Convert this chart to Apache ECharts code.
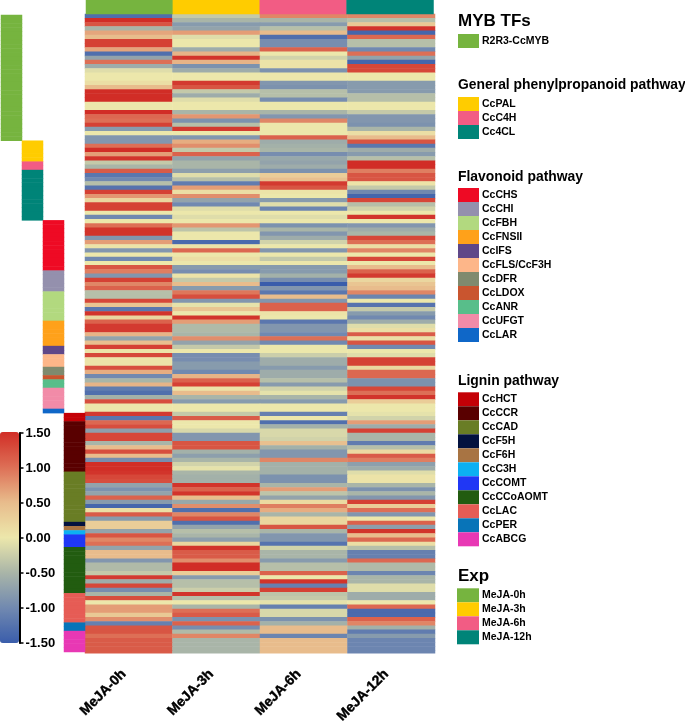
<!DOCTYPE html>
<html>
<head>
<meta charset="utf-8">
<style>html,body{margin:0;padding:0;background:#fff}#c{width:685px;height:725px;filter:blur(0.45px)}</style>
<script src="https://cdn.jsdelivr.net/npm/echarts@6/dist/echarts.min.js"></script>
</head>
<body>
<div id="c"></div>
<script>
const samples = ['MeJA-0h','MeJA-3h','MeJA-6h','MeJA-12h'];
const sampleColors = ['#76b43f','#ffcc00','#f25c84','#008478'];

const meja0h = [
-1.3,1.5,1.2,-0.5,0.65,0.5,1.35,1.35,0.65,-1.3,-0.7,1.0,-0.6,-0.1,0,0,0.1,0.5,1.5,1.5,1.5,0,0,
1.5,1.05,1.0,1.35,-0.8,0,-0.85,-0.85,1.0,1.5,0.7,1.45,-0.3,-0.5,1.15,-1.2,-1.0,-0.4,-1.25,1.35,0.75,0.2,1.35,1.35,0,-1.0,
0,1.0,1.45,1.45,-0.85,0.7,0.05,-0.85,0,-1.0,0,1.2,0.9,-0.85,1.35,0.85,1.1,-0.4,-0.4,1.3,0.4,-1.2,1.45,0.2,1.1,1.4,1.4,
0.55,-0.7,0.45,1.35,0.05,1.3,0.05,0.05,1.25,0.6,-1.0,-0.5,0.55,-1.15,-1.3,-0.55,1.25,0,0,1.4,-1.2,1.05,1.25,-0.75,1.3,1.3,
-0.5,0.5,1.25,0.5,-0.95,1.5,1.5,1.45,1.3,1.25,-0.7,-0.9,-0.7,1.1,-0.8,-1.4,0.1,1.15,-0.8,0.3,0.3,-0.7,1.2,0.85,1.0,-0.7,
0.5,0.5,-0.85,-0.45,-0.45,-0.3,1.4,-0.6,1.3,-0.95,-0.5,1.25,0,0.7,0.7,0.35,0.8,-1.1,1.2,1.2,1.0,1.15,1.15,1.15,1.15];

const meja3h = [
-0.3,-0.5,-0.8,-0.7,0.7,-0.1,0,0,-0.6,0.55,1.45,0.55,-0.9,-0.6,0,0,1.4,1.2,-0.3,-0.6,-0.1,0,0,
-0.5,0.75,-0.9,-0.4,1.4,0,-0.85,0.6,0.8,-0.3,1.1,-0.7,-0.5,-0.5,-0.75,-0.1,-0.4,-1.15,0.7,0.1,0.8,-0.7,-1.0,-0.1,0,-0.1,
0,0.75,-0.35,0,0,-1.35,0.05,1.05,0,0.1,0,-0.8,-0.95,0.05,-0.3,0.5,-0.8,0.95,1.25,-0.85,-0.05,0.4,0,1.45,0.7,-0.45,-0.45,
-0.5,0.8,-0.7,-0.3,0,-0.95,-0.95,-0.8,-0.8,-1.0,0.55,1.1,1.35,0.05,0.5,-0.5,-0.8,0,0,-0.3,1.15,0,0,-0.15,-0.85,-0.85,
1.2,1.2,-0.55,-0.75,-0.5,-0.2,-0.05,-0.5,-0.55,-0.55,1.45,1.1,1.45,0.5,-0.65,0.8,-1.3,0.85,1.2,-1.3,-0.7,-0.4,-0.5,-0.75,0.2,1.45,
1.15,1.15,0.8,1.5,1.5,0.3,-0.8,-0.4,-0.4,-0.25,1.45,-0.4,0,-0.5,1.0,1.15,-0.9,1.1,-0.95,-0.45,0.85,-0.5,-0.5,-0.5,-0.5];

const meja6h = [
0.85,-0.5,-0.8,-0.4,0.5,-1.3,-0.95,-0.95,1.1,0,-0.2,0.05,0.05,-0.9,0,0,-0.85,-0.9,-0.4,-0.4,-0.95,0,0,
-0.5,-0.85,0.85,0,0,0,1.1,-0.6,-0.55,-0.5,-0.95,-0.65,-0.7,-0.6,-0.9,0.3,0.45,1.4,1.2,0.05,0,-0.8,-0.1,-1.05,0,-0.1,
0,-0.9,-0.5,-0.85,-0.6,-0.2,0,-0.85,0,-0.3,0,-0.8,-0.8,-0.55,-0.95,-1.5,-0.85,-1.2,0.5,-0.85,1.1,1.1,0.05,0,-1.2,-0.85,-0.85,
-1.0,1.0,-1.0,0,0,-0.25,-0.6,-0.6,-0.8,-0.6,-0.6,-0.4,-0.8,-0.2,-0.05,-0.5,-0.8,0,0,-1.1,0,-1.3,-0.55,-0.15,-0.15,-0.2,
0.45,-0.55,-0.85,-0.85,0.85,-0.55,-0.55,-0.55,-0.9,-0.9,-0.5,0.7,-0.35,-0.7,0.15,0.9,0.6,-0.5,0.2,0.2,1.2,-0.5,-0.85,-0.85,-1.25,-0.2,
-0.5,-0.5,-0.8,-0.4,-0.4,1.1,0,1.45,-1.1,1.35,-0.35,-0.3,-0.05,-1.1,-0.15,-0.15,-0.9,-0.55,0.5,0.5,-1.05,0.5,0.5,0.5,0.5];

const meja12h = [
0.85,-0.4,0.35,1.45,-1.4,1.05,-0.4,-0.4,-1.0,1.0,-0.7,-1.4,1.3,1.3,0,0,-0.8,-0.8,-0.8,-0.4,-0.4,0,0,
-0.3,-0.85,-0.85,-0.9,-0.5,0.1,0.5,1.2,-1.2,-0.6,-0.8,-0.4,1.5,1.5,0.9,1.2,1.2,0.05,-0.3,-1.0,-1.4,1.3,-0.4,-0.2,0,1.45,
0,-0.85,-0.6,-0.5,1.3,1.0,0.1,0.85,0,1.3,0,0.5,1.1,1.4,0.2,0.4,0.5,0.85,-1.05,0,-1.25,-0.3,-0.8,-1.0,-0.6,-0.1,0.1,
1.15,0.1,1.2,-1.0,0,-0.1,1.35,1.35,0.2,1.05,1.05,-0.9,-0.9,1.3,1.0,1.45,0.3,0,0,-0.05,-0.2,0.7,-0.6,1.35,-0.5,-0.5,
-1.15,-0.4,0.15,1.15,0.9,-0.75,-0.6,-0.1,0.05,0.05,-0.5,-0.9,-0.5,-0.85,1.35,0.3,1.0,-0.85,0,1.1,-0.75,1.45,0.5,1.05,0.1,-0.4,
-1.1,-1.1,1.05,-0.45,-0.45,-1.05,-0.5,-0.5,-0.1,-0.1,-0.6,-0.6,0,1.05,-1.35,-1.35,1.1,0.85,-0.55,-1.15,-0.8,-1.05,-1.05,-1.05,-1.05];

const colorTicks = [-1.5,-1,-0.5,0,0.5,1,1.5];
const heatColors = ['#3a5dab','#7189b0','#a9b5a8','#ece7ab','#e8bc8c','#dd6f56','#d12d26'];

const mybNames = ['R2R3-CcMYB'];
const mybColors = ['#76b43f'];
const mybCounts = [30];

const phenylNames = ['CcPAL','CcC4H','Cc4CL'];
const phenylColors = ['#ffcc00','#f25c84','#008478'];
const phenylCounts = [5,2,12];

const flavNames = ['CcCHS','CcCHI','CcFBH','CcFNSII','CcIFS','CcFLS/CcF3H','CcDFR','CcLDOX','CcANR','CcUFGT','CcLAR'];
const flavColors = ['#ee0a24','#9490ad','#b2d97f','#ffa11a','#5f4788','#fdb689','#7f8a6e','#c9552f','#58be8a','#f28ba8','#0f67c8'];
const flavCounts = [12,5,7,6,2,3,2,1,2,5,1];

const ligninNames = ['CcHCT','CcCCR','CcCAD','CcF5H','CcF6H','CcC3H','CcCOMT','CcCCoAOMT','CcLAC','CcPER','CcABCG'];
const ligninColors = ['#c40006','#590000','#697d25','#03123f','#a87443','#0cb0f2','#2037f5','#225c10','#e65c55','#0874b8','#e838b4'];
const ligninCounts = [2,12,12,1,1,1,3,11,7,2,5];

const allCols = [meja0h,meja3h,meja6h,meja12h];
const rowCount = meja0h.length;
const rows = Array.from({length:rowCount},(_,i)=>String(i));

const heatData = [];
for (let r=0;r<rowCount;r++) for (let c=0;c<4;c++) heatData.push([c,r,allCols[c][r]]);

const tracks = [[mybCounts,mybColors],[phenylCounts,phenylColors],[flavCounts,flavColors],[ligninCounts,ligninColors]];
const annData = [];
let pos = 0;
tracks.forEach((t,ti)=>{
  t[0].forEach((n,fi)=>{
    for (let k=0;k<n;k++){ annData.push({value:[ti,pos,fi],itemStyle:{color:t[1][fi]}}); pos++; }
  });
});
const annRows = Array.from({length:pos},(_,i)=>String(i));

const FONT = '"Liberation Sans",Arial,sans-serif';
const gfx = [];
function title(txt,y,size){
  gfx.push({type:'text',z:100,x:458,y:y,style:{text:txt,font:'bold '+size+'px '+FONT,fill:'#000',verticalAlign:'middle'}});
}
function block(names,colors,y,x,w){
  names.forEach((n,i)=>{
    gfx.push({type:'rect',z:100,shape:{x:x,y:y+i*14,width:w,height:14},style:{fill:colors[i]}});
    gfx.push({type:'text',z:100,x:482,y:y+i*14+7,style:{text:n,font:'bold 10.5px '+FONT,fill:'#000',verticalAlign:'middle'}});
  });
}
title('MYB TFs',21,17);       block(mybNames,mybColors,34,458,21);
title('General phenylpropanoid pathway',85.5,13.9); block(phenylNames,phenylColors,97,458,21);
title('Flavonoid pathway',177,13.9); block(flavNames,flavColors,188,458,21);
title('Lignin pathway',381,13.9); block(ligninNames,ligninColors,392.3,458,21);
title('Exp',576,17); block(samples,sampleColors,588.3,457,22);
gfx.push({type:'rect',z:100,shape:{x:80,y:653.4,width:360,height:5},style:{fill:'#fff'}});

const chart = echarts.init(document.getElementById('c'),null,{renderer:'canvas',width:685,height:725});
chart.setOption({
  animation:false,
  backgroundColor:'#fff',
  grid:[
    {left:85,top:14,width:350,height:641,outerBoundsMode:'none'},
    {left:86,top:0,width:347.5,height:14,outerBoundsMode:'none'},
    {left:1,top:15,width:84,height:637,outerBoundsMode:'none'},
    {left:19.5,top:433,width:1,height:210,outerBoundsMode:'none'}
  ],
  xAxis:[
    {type:'category',gridIndex:0,data:samples,axisLine:{show:false},axisTick:{show:false},splitLine:{show:false},
     axisLabel:{rotate:45,interval:0,margin:22,align:'right',verticalAlign:'bottom',color:'#000',fontFamily:FONT,fontWeight:'bold',fontSize:14,textBorderColor:'#000',textBorderWidth:0.4}},
    {type:'category',gridIndex:1,data:samples,show:false},
    {type:'category',gridIndex:2,data:['a','b','c','d'],show:false},
    {type:'value',gridIndex:3,show:false}
  ],
  yAxis:[
    {type:'category',gridIndex:0,data:rows,inverse:true,show:false},
    {type:'category',gridIndex:1,data:['exp'],show:false},
    {type:'category',gridIndex:2,data:annRows,inverse:true,show:false},
    {type:'value',gridIndex:3,min:colorTicks[0],max:colorTicks[colorTicks.length-1],interval:0.5,position:'left',
     axisLine:{show:true,lineStyle:{color:'#000',width:2}},
     axisTick:{show:true,inside:true,length:4,lineStyle:{color:'#000',width:1.5}},
     splitLine:{show:false},
     axisLabel:{inside:true,margin:6,color:'#000',fontFamily:FONT,fontWeight:'bold',fontSize:13,formatter:v=>v.toFixed(2)}}
  ],
  visualMap:[{
    type:'continuous',seriesIndex:0,min:-1.5,max:1.5,calculable:false,show:true,
    left:0,top:432,itemWidth:19,itemHeight:211,padding:0,text:null,
    inRange:{color:heatColors}
  }],
  series:[
    {type:'heatmap',xAxisIndex:0,yAxisIndex:0,data:heatData,progressive:0,itemStyle:{borderWidth:0},emphasis:{disabled:true}},
    {type:'heatmap',xAxisIndex:1,yAxisIndex:1,progressive:0,data:sampleColors.map((col,i)=>({value:[i,0,i],itemStyle:{color:col}})),emphasis:{disabled:true}},
    {type:'heatmap',xAxisIndex:2,yAxisIndex:2,progressive:0,data:annData,emphasis:{disabled:true}}
  ],
  graphic:{elements:gfx}
});
</script>
</body>
</html>
